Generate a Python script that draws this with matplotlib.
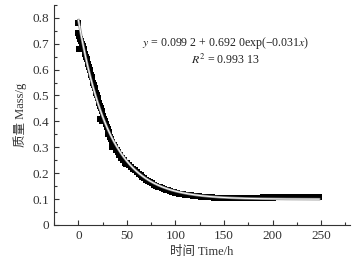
import numpy as np
import matplotlib
matplotlib.use("Agg")
import matplotlib.pyplot as plt
from matplotlib.ticker import MultipleLocator

plt.rcParams['font.family'] = ['Liberation Serif', 'Noto Sans CJK SC']
plt.rcParams['mathtext.fontset'] = 'stix'

t_early = [0, 0, 1, 1, 2, 2, 3, 4, 5, 6, 7, 8, 9, 10, 11, 12, 13, 14, 15, 16,
           17, 18, 19, 20, 21, 22, 22, 23, 24, 24, 25, 26, 27, 28, 29, 30, 30,
           31, 32, 33, 34, 35, 35, 36, 37, 38, 39, 40, 41, 42, 43, 44, 45, 46,
           47, 48, 49]
m_early = [0.78, 0.74, 0.73, 0.68, 0.72, 0.68, 0.71, 0.70, 0.69, 0.68, 0.66,
           0.65, 0.64, 0.62, 0.61, 0.60, 0.58, 0.57, 0.55, 0.54, 0.53, 0.51,
           0.50, 0.49, 0.47, 0.46, 0.41, 0.45, 0.44, 0.40, 0.42, 0.41, 0.40,
           0.39, 0.38, 0.37, 0.35, 0.36, 0.35, 0.34, 0.33, 0.32, 0.30, 0.31,
           0.31, 0.30, 0.29, 0.29, 0.28, 0.27, 0.27, 0.26, 0.26, 0.25, 0.25,
           0.24, 0.235]
t_late = list(range(50, 250, 2))
m_late = [0.240, 0.232, 0.224, 0.217, 0.211, 0.204, 0.198, 0.192, 0.186, 0.180,
          0.175, 0.170, 0.165, 0.160, 0.155,
          0.152, 0.148, 0.145, 0.142, 0.139, 0.136, 0.134, 0.131, 0.129, 0.127,
          0.125, 0.123, 0.121, 0.120, 0.118, 0.117, 0.116, 0.115, 0.114, 0.113,
          0.112, 0.111, 0.110, 0.109, 0.109, 0.108, 0.107, 0.107, 0.106, 0.106,
          0.105, 0.105, 0.104, 0.104, 0.104, 0.103,
          0.103, 0.103, 0.103, 0.103, 0.103, 0.103, 0.103, 0.103, 0.103, 0.103,
          0.103, 0.104, 0.104, 0.104, 0.104, 0.105, 0.105, 0.105, 0.105, 0.106,
          0.106, 0.105, 0.106, 0.106,
          0.105, 0.106, 0.106, 0.107, 0.106, 0.107, 0.106, 0.107, 0.107, 0.106,
          0.107, 0.107, 0.106, 0.107, 0.107, 0.107, 0.106, 0.107, 0.107, 0.107,
          0.106, 0.107, 0.107, 0.107, 0.107]

time = np.array(t_early + t_late, dtype=float)
mass = np.array(m_early + m_late)

# fitted model as printed on the chart
y0, A, k = 0.0992, 0.6920, 0.031
t_fit = np.linspace(0, 248, 300)
m_fit = y0 + A * np.exp(-k * t_fit)

fig = plt.figure(figsize=(3.61, 2.70), dpi=100)
ax = fig.add_axes([0.15, 0.167, 0.82, 0.815])

ax.plot(time, mass, 's', color='black', ms=4.4, mew=0)
ax.plot(t_fit, m_fit, color='#8a8a8a', lw=1.8)
ax.plot(t_fit, m_fit, color='white', lw=0.7)

ax.set_xlim(-25, 280)
ax.set_ylim(0, 0.85)
ax.xaxis.set_major_locator(MultipleLocator(50))
ax.xaxis.set_minor_locator(MultipleLocator(25))
ax.yaxis.set_minor_locator(MultipleLocator(0.05))
ax.set_yticks(np.arange(0, 0.81, 0.1))
ax.set_yticklabels(['0', '0.1', '0.2', '0.3', '0.4', '0.5', '0.6', '0.7', '0.8'])

for side in ['top', 'right']:
    ax.spines[side].set_visible(False)
for side in ['left', 'bottom']:
    ax.spines[side].set_linewidth(0.8)
    ax.spines[side].set_color('#333333')
ax.tick_params(which='both', direction='in', labelsize=9.5, colors='#333333', width=0.8)
ax.tick_params(which='major', length=3.5)
ax.tick_params(which='minor', length=2)

ax.set_xlabel('时间 Time/h', fontsize=9, color='#333333', labelpad=3)
ax.set_ylabel('质量 Mass/g', fontsize=9, color='#333333', labelpad=4)

ax.text(0.58, 0.825, r'$y$ = 0.099 2 + 0.692 0exp(−0.031$x$)', transform=ax.transAxes,
        fontsize=8.6, ha='center', va='center', color='#222222')
ax.text(0.58, 0.75, r'$R^2$ = 0.993 13', transform=ax.transAxes,
        fontsize=8.6, ha='center', va='center', color='#222222')

fig.savefig('out.png', dpi=100)
